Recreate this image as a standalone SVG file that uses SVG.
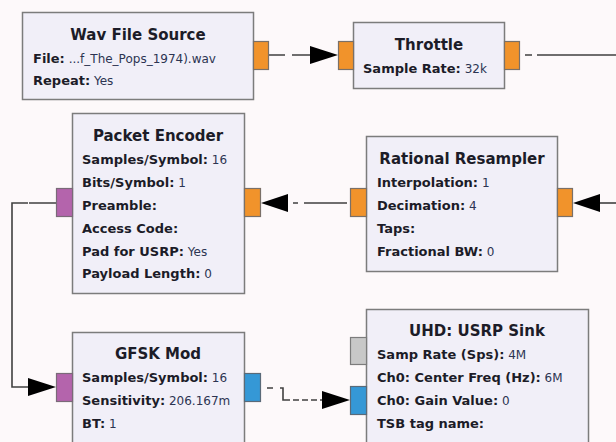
<svg xmlns="http://www.w3.org/2000/svg" width="616" height="442" viewBox="0 0 616 442">
<style>
.blk{fill:#f1eff8;stroke:#7c7c7c;stroke-width:1.5}
.po{fill:#f1932b;stroke:#7a7068;stroke-width:1.2}
.pp{fill:#b464ac;stroke:#7a6a78;stroke-width:1.2}
.pb{fill:#3598d6;stroke:#5a6a78;stroke-width:1.2}
.pg{fill:#c8c8c8;stroke:#7c7c7c;stroke-width:1.2}
.t{font-family:"DejaVu Sans",Verdana,sans-serif;font-weight:bold;font-size:15px;fill:#1c1c28;text-anchor:middle}
.p{font-family:"DejaVu Sans",Verdana,sans-serif;font-size:12px;fill:#2c3452}
.k{font-weight:bold;font-size:13px;fill:#1c1c28}
.ln{fill:none;stroke:#404040;stroke-width:1.6}
.ar{fill:#000}
</style>
<rect width="616" height="442" fill="#fdf9fa"/>
<g id="connectors">
<path class="ln" d="M268 55H285M292 55H311"/>
<polygon class="ar" points="310,46 338,55 310,64"/>
<path class="ln" d="M525 55H532M537 55H616"/>
<path class="ln" d="M616 203H598"/>
<polygon class="ar" points="600,194 573,203 600,212"/>
<path class="ln" d="M347 203H304M298 203H293"/>
<polygon class="ar" points="288,194 261,203 288,212"/>
<path class="ln" d="M56 203H29M28 203H12V387H30"/>
<polygon class="ar" points="28,378 56,387 28,396"/>
<path class="ln" d="M267 388H273M280 388H283V400H290"/>
<path class="ln" d="M293 400H323" stroke-dasharray="6,3"/>
<polygon class="ar" points="322,391 350,400 322,409"/>
</g>
<g id="wav_file_source">
<rect class="blk" x="22.5" y="12.5" width="231" height="87"/>
<rect class="po" x="253.5" y="41.5" width="15" height="28"/>
<text class="t" x="138" y="40">Wav File Source</text>
<text class="p" x="33" y="63"><tspan class="k">File:</tspan> ...f_The_Pops_1974).wav</text>
<text class="p" x="33" y="85"><tspan class="k">Repeat:</tspan> Yes</text>
</g>
<g id="throttle">
<rect class="blk" x="353.5" y="22.5" width="151" height="66"/>
<rect class="po" x="338.5" y="41.5" width="15" height="28"/>
<rect class="po" x="504.5" y="41.5" width="15" height="28"/>
<text class="t" x="429" y="50">Throttle</text>
<text class="p" x="363" y="73"><tspan class="k">Sample Rate:</tspan> 32k</text>
</g>
<g id="packet_encoder">
<rect class="blk" x="72.5" y="113.5" width="172" height="180"/>
<rect class="pp" x="56.5" y="188.5" width="16" height="28"/>
<rect class="po" x="244.5" y="188.5" width="16" height="28"/>
<text class="t" x="158" y="141">Packet Encoder</text>
<text class="p" x="82" y="164"><tspan class="k">Samples/Symbol:</tspan> 16</text>
<text class="p" x="82" y="187"><tspan class="k">Bits/Symbol:</tspan> 1</text>
<text class="p" x="82" y="210"><tspan class="k">Preamble:</tspan></text>
<text class="p" x="82" y="233"><tspan class="k">Access Code:</tspan></text>
<text class="p" x="82" y="256"><tspan class="k">Pad for USRP:</tspan> Yes</text>
<text class="p" x="82" y="278"><tspan class="k">Payload Length:</tspan> 0</text>
</g>
<g id="rational_resampler">
<rect class="blk" x="366.5" y="136.5" width="191" height="135"/>
<rect class="po" x="350.5" y="188.5" width="16" height="28"/>
<rect class="po" x="557.5" y="188.5" width="15" height="28"/>
<text class="t" x="462" y="164">Rational Resampler</text>
<text class="p" x="377" y="187"><tspan class="k">Interpolation:</tspan> 1</text>
<text class="p" x="377" y="210"><tspan class="k">Decimation:</tspan> 4</text>
<text class="p" x="377" y="233"><tspan class="k">Taps:</tspan></text>
<text class="p" x="377" y="256"><tspan class="k">Fractional BW:</tspan> 0</text>
</g>
<g id="gfsk_mod">
<rect class="blk" x="72.5" y="332.5" width="172" height="130"/>
<rect class="pp" x="56.5" y="373.5" width="16" height="28"/>
<rect class="pb" x="244.5" y="373.5" width="16" height="28"/>
<text class="t" x="158" y="359">GFSK Mod</text>
<text class="p" x="82" y="382"><tspan class="k">Samples/Symbol:</tspan> 16</text>
<text class="p" x="82" y="405"><tspan class="k">Sensitivity:</tspan> 206.167m</text>
<text class="p" x="82" y="428"><tspan class="k">BT:</tspan> 1</text>
</g>
<g id="uhd_usrp_sink">
<rect class="blk" x="366.5" y="309.5" width="222" height="150"/>
<rect class="pg" x="350.5" y="337.5" width="16" height="27"/>
<rect class="pb" x="350.5" y="386.5" width="16" height="28"/>
<text class="t" x="477" y="336">UHD: USRP Sink</text>
<text class="p" x="377" y="359"><tspan class="k">Samp Rate (Sps):</tspan> 4M</text>
<text class="p" x="377" y="382"><tspan class="k">Ch0: Center Freq (Hz):</tspan> 6M</text>
<text class="p" x="377" y="405"><tspan class="k">Ch0: Gain Value:</tspan> 0</text>
<text class="p" x="377" y="428"><tspan class="k">TSB tag name:</tspan></text>
</g>
</svg>
